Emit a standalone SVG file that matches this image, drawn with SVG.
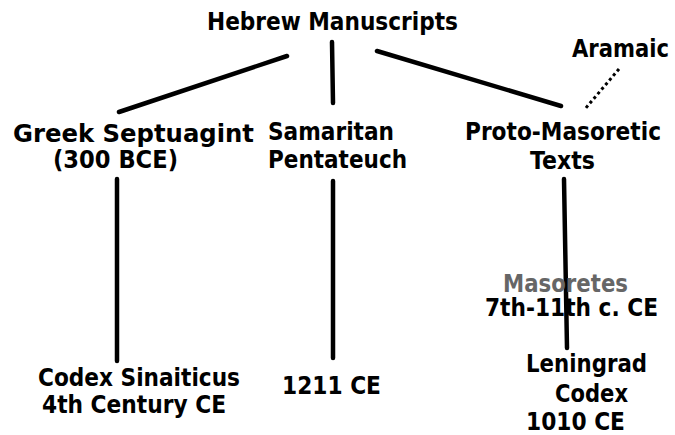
<svg xmlns="http://www.w3.org/2000/svg" width="675" height="435" viewBox="0 0 675 435">
<style>
text{font-family:"DejaVu Sans","Verdana",sans-serif;font-weight:bold;font-size:25px;fill:#000}
.gray{fill:#666}
.ln{stroke:#000;stroke-width:4.5;stroke-linecap:round;fill:none}
.dot{stroke:#000;stroke-width:3;stroke-dasharray:3 3;fill:none}
</style>
<rect width="675" height="435" fill="#fff"/>
<g id="connectors">
<line class="ln" x1="119" y1="112" x2="287" y2="56"/>
<line class="ln" x1="332" y1="42" x2="333" y2="103"/>
<line class="ln" x1="377" y1="51" x2="561" y2="106"/>
<line class="dot" x1="619" y1="69" x2="585" y2="109"/>
<line class="ln" x1="117" y1="179" x2="117" y2="361"/>
<line class="ln" x1="333" y1="181" x2="333" y2="358"/>
<line class="ln" x1="564" y1="179" x2="567" y2="348"/>
</g>
<g id="hebrew"><text x="207" y="30" textLength="251" lengthAdjust="spacingAndGlyphs">Hebrew Manuscripts</text></g>
<g id="aramaic"><text x="572" y="57" textLength="97" lengthAdjust="spacingAndGlyphs">Aramaic</text></g>
<g id="greek">
<text x="13" y="142" textLength="241" lengthAdjust="spacingAndGlyphs">Greek Septuagint</text>
<text x="53" y="168" textLength="125" lengthAdjust="spacingAndGlyphs">(300 BCE)</text>
</g>
<g id="samaritan">
<text x="268" y="140" textLength="126" lengthAdjust="spacingAndGlyphs">Samaritan</text>
<text x="268" y="168" textLength="139" lengthAdjust="spacingAndGlyphs">Pentateuch</text>
</g>
<g id="proto">
<text x="465" y="140" textLength="196" lengthAdjust="spacingAndGlyphs">Proto-Masoretic</text>
<text x="530" y="169" textLength="65" lengthAdjust="spacingAndGlyphs">Texts</text>
</g>
<g id="masoretes">
<text class="gray" x="503" y="292" textLength="125" lengthAdjust="spacingAndGlyphs">Masoretes</text>
<text x="485" y="316" textLength="173" lengthAdjust="spacingAndGlyphs">7th-11th c. CE</text>
</g>
<g id="sinaiticus">
<text x="38" y="386" textLength="202" lengthAdjust="spacingAndGlyphs">Codex Sinaiticus</text>
<text x="42" y="413" textLength="184" lengthAdjust="spacingAndGlyphs">4th Century CE</text>
</g>
<g id="sam1211"><text x="282" y="394" textLength="99" lengthAdjust="spacingAndGlyphs">1211 CE</text></g>
<g id="leningrad">
<text x="526" y="372" textLength="121" lengthAdjust="spacingAndGlyphs">Leningrad</text>
<text x="555" y="402" textLength="73" lengthAdjust="spacingAndGlyphs">Codex</text>
<text x="526" y="430" textLength="99" lengthAdjust="spacingAndGlyphs">1010 CE</text>
</g>
</svg>
